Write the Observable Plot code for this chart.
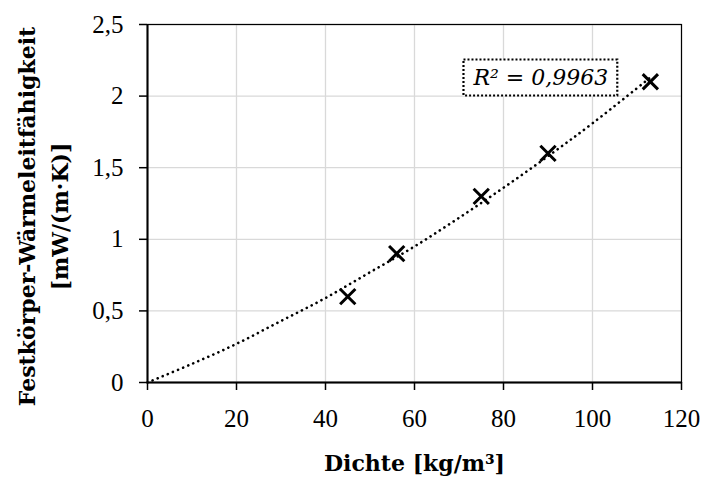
<!DOCTYPE html>
<html>
<head>
<meta charset="utf-8">
<script src="https://cdn.jsdelivr.net/npm/d3@7"></script>
<script src="https://cdn.jsdelivr.net/npm/@observablehq/plot@0.6"></script>
<style>
  html, body { margin: 0; padding: 0; background: #fff; }
  #chart { width: 704px; height: 480px; }
</style>
</head>
<body>
<div id="chart"></div>
<script>
// Measured points
const density = [45, 56, 75, 90, 113];
const conductivity = [0.6, 0.9, 1.3, 1.6, 2.1];

// Trendline
const trendX = [0, 10, 20, 30, 40, 50, 60, 70, 80, 90, 100, 113];
const trendY = [0, 0.13, 0.27, 0.43, 0.59, 0.77, 0.95, 1.15, 1.36, 1.58, 1.81, 2.13];

// Ticks and labels
const xTicks = [0, 20, 40, 60, 80, 100, 120];
const yTicks = [0, 0.5, 1, 1.5, 2, 2.5];
const xLabel = "Dichte [kg/m³]";
const yLabel = "Festkörper-Wärmeleitfähigkeit\n[mW/(m·K)]";
const r2Label = "R² = 0,9963";

const points = density.map((d, i) => ({x: d, y: conductivity[i]}));
const trend = trendX.map((d, i) => ({x: d, y: trendY[i]}));
const comma = d => String(d).replace(".", ",");

const tickFont = "Liberation Serif";
const labelFont = "DejaVu Serif";

const chart = Plot.plot({
  width: 704,
  height: 480,
  marginLeft: 147,
  marginRight: 23,
  marginTop: 24,
  marginBottom: 98,
  style: {background: "#fff", color: "#000", fontFamily: tickFont, fontSize: "25px"},
  x: {domain: [0, 120]},
  y: {domain: [0, 2.5]},
  marks: [
    Plot.gridX(xTicks, {stroke: "#d9d9d9", strokeOpacity: 1, strokeWidth: 1.3}),
    Plot.gridY(yTicks, {stroke: "#d9d9d9", strokeOpacity: 1, strokeWidth: 1.3}),
    Plot.frame({stroke: "#000", strokeWidth: 1.2}),
    Plot.axisX(xTicks, {tickSize: 8, tickPadding: 19, tickFormat: comma, fontSize: 25, label: null, strokeWidth: 1.5}),
    Plot.axisY(yTicks, {tickSize: 8, tickPadding: 16, tickFormat: comma, fontSize: 25, label: null, strokeWidth: 1.5}),
    Plot.ruleX([0], {stroke: "#000", strokeWidth: 2}),
    Plot.ruleY([0], {stroke: "#000", strokeWidth: 2}),
    Plot.line(trend, {x: "x", y: "y", curve: "catmull-rom", stroke: "#000", strokeWidth: 2.6, strokeDasharray: "0.1 5.4", strokeLinecap: "round"}),
    Plot.dot(points, {x: "x", y: "y", symbol: "times", r: 7, stroke: "#000", strokeWidth: 3}),
    Plot.text([r2Label], {x: 88.4, y: 2.13, text: d => d, fontSize: 22, fontFamily: labelFont, fontStyle: "italic", fill: "#000", textAnchor: "middle", lineAnchor: "middle"}),
    Plot.text([xLabel], {frameAnchor: "bottom", dy: 81, text: d => d, fontSize: 22, fontWeight: "bold", fontFamily: labelFont, fill: "#000", textAnchor: "middle", lineAnchor: "middle"}),
    Plot.text([yLabel], {frameAnchor: "left", dx: -106.5, dy: 13, rotate: -90, text: d => d, fontSize: 22, fontWeight: "bold", fontFamily: labelFont, fill: "#000", textAnchor: "middle", lineAnchor: "middle", lineHeight: 1.5})
  ]
});

document.getElementById("chart").appendChild(chart);

// Dotted, white-filled box around the R² annotation
const svg = d3.select(chart);
const r2Text = svg.selectAll("text").filter(function () { return this.textContent === r2Label; });
if (!r2Text.empty()) {
  const node = r2Text.node();
  const bb = node.getBBox();
  const parent = node.parentNode;
  d3.select(parent).insert("rect", () => node)
    .attr("transform", node.getAttribute("transform"))
    .attr("x", bb.x - 9)
    .attr("y", bb.y - 5)
    .attr("width", bb.width + 18)
    .attr("height", bb.height + 11)
    .attr("fill", "#fff")
    .attr("stroke", "#000")
    .attr("stroke-width", 2.2)
    .attr("stroke-dasharray", "2 2");
}
</script>
</body>
</html>
